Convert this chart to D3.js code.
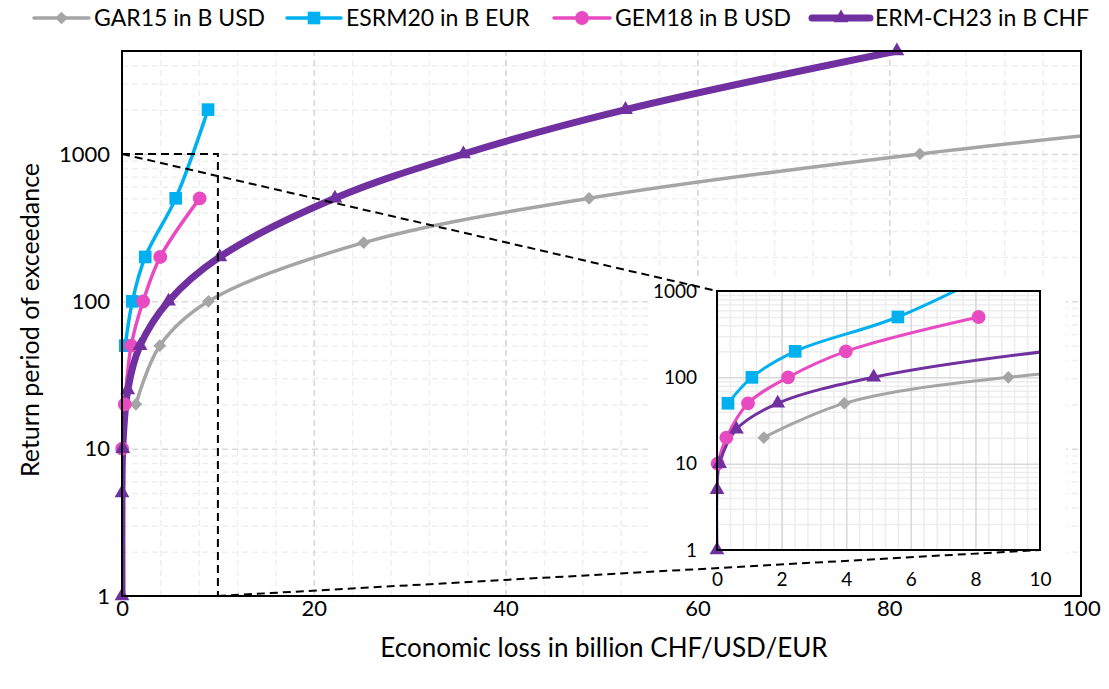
<!DOCTYPE html>
<html>
<head>
<meta charset="utf-8">
<script src="https://cdn.jsdelivr.net/npm/d3@7"></script>
<style>
body { margin: 0; background: #fff; }
text { font-family: Lato, "Noto Sans", sans-serif; fill: #000; }
</style>
</head>
<body>
<div id="chart"></div>
<script>
//==================
// values
var seriesNames = ["GAR15 in B USD", "ESRM20 in B EUR", "GEM18 in B USD", "ERM-CH23 in B CHF"];
var garLoss = [1.45, 3.94, 9.02, 25.2, 48.7, 83.2, 127];
var garRP = [20, 50, 100, 250, 500, 1000, 2000];
var esrmLoss = [0.34, 1.08, 2.42, 5.6, 8.97];
var esrmRP = [50, 100, 200, 500, 2000];
var gemLoss = [0.02, 0.29, 0.96, 2.2, 3.99, 8.1];
var gemRP = [10, 20, 50, 100, 200, 500];
var ermLoss = [0, 0, 0.08, 0.6, 1.88, 4.85, 10.2, 22.2, 35.6, 52.5, 80.8];
var ermRP = [1, 5, 10, 25, 50, 100, 200, 500, 1000, 2000, 5000];

var xTicks = [0, 20, 40, 60, 80, 100];
var yTicks = [1, 10, 100, 1000];
var insetXTicks = [0, 2, 4, 6, 8, 10];
var insetYTicks = [1, 10, 100, 1000];

var xTitle = "Economic loss in billion CHF/USD/EUR";
var yTitle = "Return period of exceedance";

//==================
// styles
var colors = ["#A5A5A5", "#00B0F0", "#E84BC1", "#7030A0"];
var widths = [3.5, 3.5, 3.5, 7];
var insetWidths = [3, 3, 3, 3];

var diamond = {
  draw: function(ctx, size) {
    var r = Math.sqrt(size / 2);
    ctx.moveTo(0, -r); ctx.lineTo(r, 0); ctx.lineTo(0, r); ctx.lineTo(-r, 0); ctx.closePath();
  }
};
var symbols = [d3.symbol(diamond, 80), d3.symbol(d3.symbolSquare, 160), d3.symbol(d3.symbolCircle, 150), d3.symbol(d3.symbolTriangle, 95)];

var allSeries = [
  d3.zip(garLoss, garRP),
  d3.zip(esrmLoss, esrmRP),
  d3.zip(gemLoss, gemRP),
  d3.zip(ermLoss, ermRP)
];

var svgWidth = 1109;
var svgHeight = 689;

var svg = d3.select("#chart")
  .append("svg")
  .attr("width", svgWidth)
  .attr("height", svgHeight);

//==================
// main scales
var xScale = d3.scaleLinear().domain([0, 100]).range([122, 1081]);
var yScale = d3.scaleLog().domain([1, 5000]).range([596, 51]);

// inset scales
var xInset = d3.scaleLinear().domain([0, 10]).range([717, 1040]);
var yInset = d3.scaleLog().domain([1, 1000]).range([550, 291]);

function minorLog(maxVal) {
  var out = [];
  for (var d = 1; d < maxVal; d *= 10) {
    for (var k = 2; k <= 9; k++) {
      if (d * k <= maxVal) out.push(d * k);
    }
  }
  return out;
}

// draw gridlines + series of one panel
function drawPanel(id, xs, ys, xMinor, yMinor, xMajor, yMajor, dashed, lw, major, minor) {
  var x0 = xs.range()[0], x1 = xs.range()[1];
  var y0 = ys.range()[0], y1 = ys.range()[1];
  var g = svg.append("g");

  svg.append("clipPath").attr("id", id)
    .append("rect").attr("x", x0).attr("y", y1).attr("width", x1 - x0).attr("height", y0 - y1);

  var gridParts = [
    [d3.axisBottom(xs).tickValues(xMinor), minor, "x"],
    [d3.axisLeft(ys).tickValues(yMinor), minor, "y"],
    [d3.axisBottom(xs).tickValues(xMajor), major, "x"],
    [d3.axisLeft(ys).tickValues(yMajor), major, "y"]
  ];
  gridParts.forEach(function(p) {
    var ax = p[0].tickFormat("").tickSizeOuter(0);
    var gg = g.append("g");
    if (p[2] == "x") {
      ax.tickSize(-(y0 - y1));
      gg.attr("transform", "translate(0," + y0 + ")");
    } else {
      ax.tickSize(-(x1 - x0));
      gg.attr("transform", "translate(" + x0 + ",0)");
    }
    gg.call(ax);
    gg.select(".domain").remove();
    gg.selectAll("line")
      .attr("stroke", p[1])
      .attr("stroke-width", 1.5)
      .attr("stroke-dasharray", dashed ? "6,4" : null);
  });

  // series lines
  var line = d3.line()
    .x(function(d) { return xs(d[0]); })
    .y(function(d) { return ys(d[1]); })
    .curve(d3.curveCatmullRom.alpha(0.5));

  allSeries.forEach(function(data, i) {
    g.append("path")
      .attr("clip-path", "url(#" + id + ")")
      .attr("d", line(data))
      .attr("fill", "none")
      .attr("stroke", colors[i])
      .attr("stroke-width", lw[i])
      .attr("stroke-linejoin", "round");
  });
  allSeries.forEach(function(data, i) {
    var pts = data.filter(function(d) {
      return d[0] <= xs.domain()[1] && d[1] <= ys.domain()[1];
    });
    g.selectAll(null)
      .data(pts)
      .enter()
      .append("path")
      .attr("transform", function(d) { return "translate(" + xs(d[0]) + "," + ys(d[1]) + ")"; })
      .attr("d", symbols[i])
      .attr("fill", colors[i]);
  });

  // frame
  g.append("rect")
    .attr("x", x0).attr("y", y1)
    .attr("width", x1 - x0).attr("height", y0 - y1)
    .attr("fill", "none")
    .attr("stroke", "#000")
    .attr("stroke-width", 2);
  return g;
}

function styleTicks(a, size) {
  a.select(".domain").remove();
  a.selectAll("text").style("font-family", "Lato").style("font-size", size + "px").attr("fill", "#000");
}

//==================
// main chart
svg.append("rect")
  .attr("x", xScale.range()[0]).attr("y", yScale.range()[1])
  .attr("width", 959).attr("height", 545)
  .attr("fill", "#fff");

drawPanel("clipMain", xScale, yScale,
  d3.range(0, 101, 4), minorLog(5000), xTicks.slice(1, -1), yTicks.slice(1),
  true, widths, "#D9D9D9", "#EFEFEF");

// axis labels
var xAxisG = svg.append("g")
  .attr("transform", "translate(0,596)")
  .call(d3.axisBottom(xScale).tickValues(xTicks).tickSize(0).tickPadding(4));
var yAxisG = svg.append("g")
  .attr("transform", "translate(122,0)")
  .call(d3.axisLeft(yScale).tickValues(yTicks).tickFormat(d3.format("d")).tickSize(0).tickPadding(12));
styleTicks(xAxisG, 22);
styleTicks(yAxisG, 22);

//==================
// inset background, zoom box and connecting lines
svg.append("rect")
  .attr("x", 648).attr("y", 276)
  .attr("width", 418).attr("height", 318)
  .attr("fill", "#fff");

var dash = svg.append("g")
  .attr("fill", "none")
  .attr("stroke", "#000")
  .attr("stroke-width", 2)
  .attr("stroke-dasharray", "8,5");
dash.append("rect")
  .attr("x", xScale(0)).attr("y", yScale(1000))
  .attr("width", xScale(10) - xScale(0))
  .attr("height", yScale(1) - yScale(1000));
dash.append("line")
  .attr("x1", xScale(0)).attr("y1", yScale(1000))
  .attr("x2", xInset(0)).attr("y2", yInset(1000));
dash.append("line")
  .attr("x1", xScale(10)).attr("y1", yScale(1))
  .attr("x2", xInset(10)).attr("y2", yInset(1));

//==================
// inset
drawPanel("clipInset", xInset, yInset,
  d3.range(0, 10.01, 0.4), minorLog(1000), insetXTicks.slice(1, -1), insetYTicks.slice(1, -1),
  false, insetWidths, "#D9D9D9", "#EDEDED");

var xInsetG = svg.append("g")
  .attr("transform", "translate(0,550)")
  .call(d3.axisBottom(xInset).tickValues(insetXTicks).tickSize(0).tickPadding(23));
var yInsetG = svg.append("g")
  .attr("transform", "translate(717,0)")
  .call(d3.axisLeft(yInset).tickValues(insetYTicks).tickFormat(d3.format("d")).tickSize(0).tickPadding(20));
styleTicks(xInsetG, 19);
styleTicks(yInsetG, 19);

//==================
// axis titles
svg.append("text")
  .attr("x", 604).attr("y", 657)
  .attr("text-anchor", "middle")
  .style("font-size", "26px")
  .text(xTitle);
svg.append("text")
  .attr("transform", "translate(39,320) rotate(-90)")
  .attr("text-anchor", "middle")
  .style("font-size", "25px")
  .text(yTitle);

//==================
// legend
var legendX = [34, 287, 554, 812];
var legendLen = [55, 54, 56, 58];
var legend = svg.append("g");
seriesNames.forEach(function(name, i) {
  var lg = legend.append("g").attr("transform", "translate(" + legendX[i] + ",18)");
  lg.append("line")
    .attr("x1", 0).attr("x2", legendLen[i])
    .attr("stroke", colors[i])
    .attr("stroke-width", widths[i])
    .attr("stroke-linecap", "round");
  lg.append("path")
    .attr("transform", "translate(" + legendLen[i] / 2 + ",0)")
    .attr("d", symbols[i])
    .attr("fill", colors[i]);
  lg.append("text")
    .attr("x", legendLen[i] + 5)
    .attr("y", 8)
    .style("font-size", "23px")
    .text(name);
});
</script>
</body>
</html>
